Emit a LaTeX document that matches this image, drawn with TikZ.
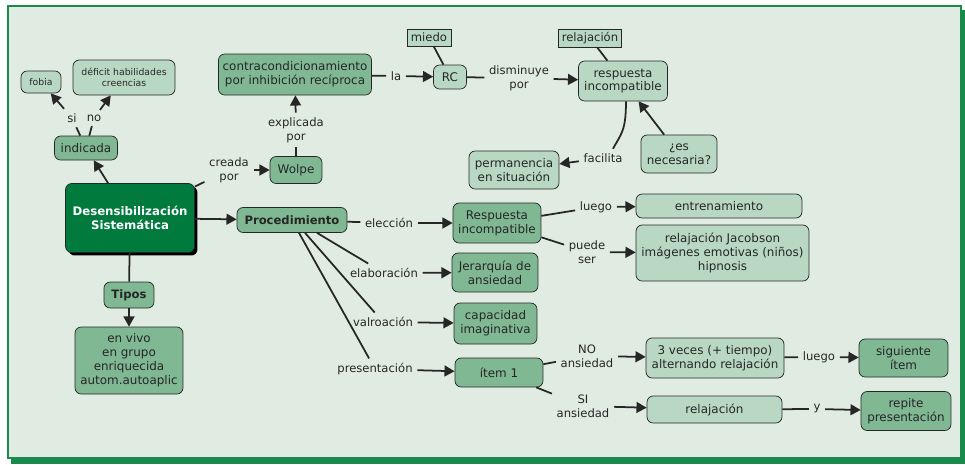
\documentclass[tikz,border=0pt]{standalone}
\usepackage{fontspec}
\setmainfont{DejaVu Sans}
\usetikzlibrary{arrows.meta}
\usetikzlibrary{shadows}

\definecolor{fondo}{HTML}{E0ECE2}
\definecolor{marco}{HTML}{1A8A4A}
\definecolor{verdemedio}{HTML}{80B894}
\definecolor{verdeclaro}{HTML}{B9D8C4}
\definecolor{verdeoscuro}{HTML}{007A3D}
\definecolor{texto}{HTML}{262626}

\tikzset{
  concepto/.style={draw=texto, fill=verdemedio, rounded corners=3.5pt, align=center,
    inner sep=1pt, text=texto, font=\fontsize{6.8}{7.9}\selectfont},
  claro/.style={concepto, fill=verdeclaro},
  etiqueta/.style={draw=texto, fill=verdeclaro, inner sep=1pt, text=texto,
    font=\fontsize{6.6}{7.9}\selectfont},
  enlace/.style={align=center, inner sep=2.5pt, text=texto, font=\fontsize{6.6}{7.9}\selectfont},
  linea/.style={line width=1pt, texto},
  flecha/.style={linea, ->},
}

\begin{document}
\begin{tikzpicture}[x=0.02cm, y=-0.02cm, >={Triangle[length=5.8pt,width=6.2pt]}]

        \useasboundingbox (0,0) rectangle (965,464);

        % Frame
        \fill[marco] (11,10) rectangle (965,464);
        \filldraw[fill=fondo, draw=marco, line width=1.5pt] (8,6) rectangle (961,458);

        % Main concept
        \node[concepto, fill=verdeoscuro, text=white, font=\bfseries\fontsize{6.7}{8}\selectfont,
          minimum width=2.58cm, minimum height=1.38cm,
          drop shadow={shadow xshift=0.06cm, shadow yshift=-0.06cm, opacity=1, fill=black}]
          (desens) at (130,218) {Desensibilización\\Sistemática};

        % Left branch
        \node[concepto, minimum width=1.26cm, minimum height=0.48cm] (indicada) at (86,148) {indicada};
        \node[claro, font=\fontsize{5.3}{6.6}\selectfont, minimum width=0.8cm, minimum height=0.44cm] (fobia) at (41,82) {fobia};
        \node[claro, font=\fontsize{5.3}{6.6}\selectfont, minimum width=2.04cm, minimum height=0.7cm] (deficit) at (124,77.5) {déficit habilidades\\creencias};
        \node[concepto, font=\bfseries\fontsize{6.6}{7.9}\selectfont, minimum width=1cm, minimum height=0.52cm] (tipos) at (129,295) {Tipos};
        \node[concepto, minimum width=2.16cm, minimum height=1.34cm] (envivo) at (129,360.5) {en vivo\\en grupo\\enriquecida\\autom.autoaplic};

        % Top branch
        \node[concepto, minimum width=1.04cm, minimum height=0.54cm] (wolpe) at (296,170) {Wolpe};
        \node[concepto, minimum width=3.06cm, minimum height=0.82cm] (contra) at (295,74.5) {contracondicionamiento\\por inhibición recíproca};
        \node[etiqueta, minimum width=0.88cm, minimum height=0.34cm] (miedo) at (429,37.5) {miedo};
        \node[claro, minimum width=0.66cm, minimum height=0.48cm] (rc) at (450,77) {RC};
        \node[etiqueta, minimum width=1.26cm, minimum height=0.36cm] (relajacion) at (590,38) {relajación};
        \node[claro, minimum width=1.78cm, minimum height=0.8cm] (respuesta) at (623,81) {respuesta\\incompatible};
        \node[claro, minimum width=1.8cm, minimum height=0.76cm] (permanencia) at (514,170) {permanencia\\en situación};
        \node[claro, minimum width=1.52cm, minimum height=0.76cm] (necesaria) at (679,154) {¿es\\necesaria?};

        % Procedure
        \node[concepto, font=\bfseries\fontsize{6.6}{7.9}\selectfont, minimum width=2.2cm, minimum height=0.5cm] (proc) at (292,220) {Procedimiento};
        \node[concepto, minimum width=1.76cm, minimum height=0.8cm] (respinc) at (497,223) {Respuesta\\incompatible};
        \node[claro, minimum width=3.32cm, minimum height=0.48cm] (entren) at (719,206) {entrenamiento};
        \node[claro, minimum width=3.46cm, minimum height=1.12cm] (jacobson) at (722.5,253) {relajación Jacobson\\imágenes emotivas (niños)\\hipnosis};
        \node[concepto, minimum width=1.72cm, minimum height=0.78cm] (jerarquia) at (495,272.5) {Jerarquía de\\ansiedad};
        \node[concepto, minimum width=1.66cm, minimum height=0.82cm] (capacidad) at (495.5,323.5) {capacidad\\imaginativa};
        \node[concepto, minimum width=1.76cm, minimum height=0.58cm] (item) at (499,372.5) {ítem 1};
        \node[claro, minimum width=2.76cm, minimum height=0.8cm] (veces) at (715,358) {3 veces (+ tiempo)\\alternando relajación};
        \node[concepto, minimum width=1.78cm, minimum height=0.76cm] (siguiente) at (903.5,358) {siguiente\\ítem};
        \node[claro, minimum width=2.7cm, minimum height=0.54cm] (relax) at (714.5,409.5) {relajación};
        \node[concepto, minimum width=1.8cm, minimum height=0.78cm] (repite) at (906,411) {repite\\presentación};

        % Link labels
        \node[enlace] (si) at (72,118) {si};
        \node[enlace] (no) at (94,118) {no};
        \node[enlace] (creada) at (229,170) {creada\\por};
        \node[enlace] (explicada) at (296,130) {explicada\\por};
        \node[enlace] (la) at (396,76) {la};
        \node[enlace] (disminuye) at (519,78) {disminuye\\por};
        \node[enlace] (facilita) at (603,158) {facilita};
        \node[enlace] (eleccion) at (389,223) {elección};
        \node[enlace] (luego) at (596,207) {luego};
        \node[enlace] (puede) at (587,252) {puede\\ser};
        \node[enlace] (elaboracion) at (384,273) {elaboración};
        \node[enlace] (valroacion) at (383,322) {valroación};
        \node[enlace] (presentacion) at (375,369) {presentación};
        \node[enlace] (noans) at (587,356) {NO\\ansiedad};
        \node[enlace] (sians) at (583,406) {SI\\ansiedad};
        \node[enlace] (luegodos) at (819,357) {luego};
        \node[enlace] (y) at (817,409) {y};

        % Lines from concepts to labels
        \foreach \a/\b in {indicada/si, indicada/no, desens/creada, wolpe/explicada, contra/la,
            rc/disminuye, proc/eleccion, respinc/luego, respinc/puede, item/noans, item/sians,
            veces/luegodos, relax/y, miedo/rc, relajacion/respuesta, desens/tipos}
            \draw[linea] (\a) -- (\b);
        \draw[linea] ([xshift=0.5cm]proc.south) -- (elaboracion);
        \draw[linea] ([xshift=0.26cm]proc.south) -- (valroacion);
        \draw[linea] ([xshift=0.14cm]proc.south) -- (presentacion);
        \draw[linea] ([xshift=0.06cm]respuesta.south) .. controls +(0,30) and +(8,-15) .. ([xshift=0.2cm]facilita.north);

        % Arrows from labels to concepts
        \foreach \a/\b in {si/fobia, no/deficit, creada/wolpe, explicada/contra, la/rc,
            disminuye/respuesta, facilita/permanencia, eleccion/respinc, luego/entren,
            puede/jacobson, elaboracion/jerarquia, valroacion/capacidad, presentacion/item,
            noans/veces, sians/relax, luegodos/siguiente, y/repite, tipos/envivo,
            desens/indicada, desens/proc, necesaria/respuesta}
            \draw[flecha] (\a) -- (\b);

\end{tikzpicture}
\end{document}
